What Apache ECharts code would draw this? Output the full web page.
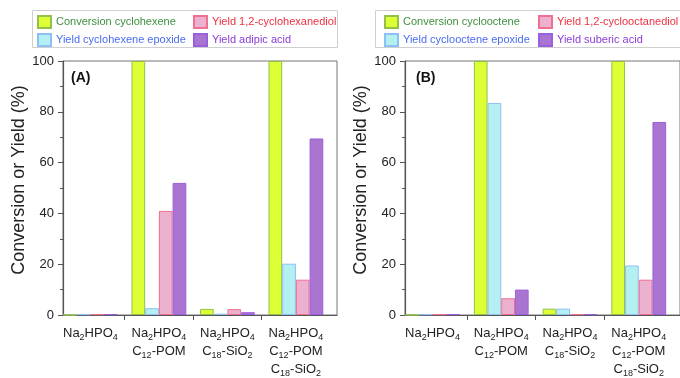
<!DOCTYPE html>
<html>
<head>
<meta charset="utf-8">
<script src="https://cdn.jsdelivr.net/npm/echarts@6/dist/echarts.min.js"></script>
<style>
  html, body { margin: 0; padding: 0; background: #fff; }
  #chart { width: 680px; height: 378px; }
</style>
</head>
<body>
<div id="chart"></div>
<script>
// catalyst groups (rich text for subscripts)
const categories = [
  '{n|Na}{s|2}{n|HPO}{s|4}',
  '{n|Na}{s|2}{n|HPO}{s|4}\n{n|C}{s|12}{n|-POM}',
  '{n|Na}{s|2}{n|HPO}{s|4}\n{n|C}{s|18}{n|-SiO}{s|2}',
  '{n|Na}{s|2}{n|HPO}{s|4}\n{n|C}{s|12}{n|-POM}\n{n|C}{s|18}{n|-SiO}{s|2}'
];
const groupPos = [1, 2, 3, 4];

// panel A: cyclohexene
const namesA = ['Conversion cyclohexene', 'Yield cyclohexene epoxide', 'Yield 1,2-cyclohexanediol', 'Yield adipic acid'];
const convA = [0, 100, 2.4, 100];
const epoxA = [0.3, 2.7, 0.5, 20.2];
const diolA = [0.3, 41, 2.3, 13.9];
const acidA = [0.3, 52, 1.1, 69.5];

// panel B: cyclooctene
const namesB = ['Conversion cyclooctene', 'Yield cyclooctene epoxide', 'Yield 1,2-cyclooctanediol', 'Yield suberic acid'];
const convB = [0, 100, 2.5, 100];
const epoxB = [0.3, 83.5, 2.5, 19.5];
const diolB = [0.3, 6.6, 0.3, 13.9];
const acidB = [0.3, 10, 0.3, 76];

const fills = ['#dcff36', '#b4eff1', '#ebb1cf', '#a975d0'];
const borders = ['#93c04a', '#8ec0f5', '#ef7090', '#9a5fe0'];
const textColors = ['#3f8f3f', '#4a6cf0', '#ee3040', '#8a3cd8'];

const chart = echarts.init(document.getElementById('chart'));

function xAxis(gridIndex) {
  return {
    type: 'value', gridIndex, min: 0.6, max: 4.6,
    axisLine: { show: true, lineStyle: { color: '#555', width: 1.2 } },
    axisTick: { show: true, length: 5, customValues: [1.5, 2.5, 3.5], lineStyle: { color: '#555' } },
    splitLine: { show: false },
    axisLabel: {
      customValues: groupPos,
      formatter: v => categories[Math.round(v) - 1],
      color: '#222', fontSize: 13, lineHeight: 18, margin: 9,
      fontFamily: 'Liberation Sans',
      rich: {
        n: { fontSize: 13, lineHeight: 18, color: '#222', fontFamily: 'Liberation Sans' },
        s: { fontSize: 9, lineHeight: 18, color: '#222', verticalAlign: 'bottom', padding: [3, 0, 0, 0], fontFamily: 'Liberation Sans' }
      }
    }
  };
}

function yAxis(gridIndex) {
  return {
    type: 'value', gridIndex, min: 0, max: 100, interval: 20,
    name: 'Conversion or Yield (%)', nameLocation: 'middle', nameGap: 31,
    nameTextStyle: { fontSize: 18, color: '#222', fontFamily: 'Liberation Sans', padding: [0, 0, 0, 16] },
    axisLine: { show: true, lineStyle: { color: '#555', width: 1.2 } },
    axisTick: { show: true, length: 5, lineStyle: { color: '#555' } },
    minorTick: { show: true, splitNumber: 2, length: 3, lineStyle: { color: '#555' } },
    splitLine: { show: false },
    axisLabel: { color: '#222', fontSize: 13, margin: 9, fontFamily: 'Liberation Sans' }
  };
}

function panelSeries(names, arrays, idx) {
  return arrays.map((arr, i) => ({
    name: names[i], type: 'bar', xAxisIndex: idx, yAxisIndex: idx,
    barWidth: 13.7, barGap: '0%',
    itemStyle: { color: fills[i], borderColor: borders[i], borderWidth: 1 },
    data: arr.map((v, k) => [groupPos[k], v])
  }));
}

function legends(names, lefts) {
  const base = {
    orient: 'vertical', top: 15, itemWidth: 13, itemHeight: 12, itemGap: 4,
    icon: 'rect', selectedMode: false, padding: 0,
    textStyle: { fontSize: 11, fontFamily: 'Liberation Sans' }
  };
  return [
    Object.assign({}, base, { left: lefts[0], data: [
      { name: names[0], textStyle: { color: textColors[0] } },
      { name: names[1], textStyle: { color: textColors[1] } }] }),
    Object.assign({}, base, { left: lefts[1], data: [
      { name: names[2], textStyle: { color: textColors[2] } },
      { name: names[3], textStyle: { color: textColors[3] } }] })
  ];
}

chart.setOption({
  animation: false,
  textStyle: { fontFamily: 'Liberation Sans' },
  title: [
    { text: '(A)', left: 66, top: 66, textStyle: { fontSize: 14, fontWeight: 'bold', color: '#111' } },
    { text: '(B)', left: 411, top: 66, textStyle: { fontSize: 14, fontWeight: 'bold', color: '#111' } }
  ],
  legend: legends(namesA, [37, 193]).concat(legends(namesB, [384, 538])),
  graphic: [
    { type: 'rect', shape: { x: 32.5, y: 10.5, width: 305, height: 37 }, style: { fill: 'none', stroke: '#cfcfcf', lineWidth: 1 }, silent: true },
    { type: 'rect', shape: { x: 375.5, y: 10.5, width: 310, height: 37 }, style: { fill: 'none', stroke: '#cfcfcf', lineWidth: 1 }, silent: true }
  ],
  grid: [
    { left: 63, top: 61, width: 274, height: 258, show: true, borderColor: '#777', borderWidth: 1, backgroundColor: 'transparent' },
    { left: 405, top: 61, width: 275, height: 258, show: true, borderColor: '#777', borderWidth: 1, backgroundColor: 'transparent' }
  ],
  xAxis: [xAxis(0), xAxis(1)],
  yAxis: [yAxis(0), yAxis(1)],
  series: panelSeries(namesA, [convA, epoxA, diolA, acidA], 0)
    .concat(panelSeries(namesB, [convB, epoxB, diolB, acidB], 1))
});
</script>
</body>
</html>
